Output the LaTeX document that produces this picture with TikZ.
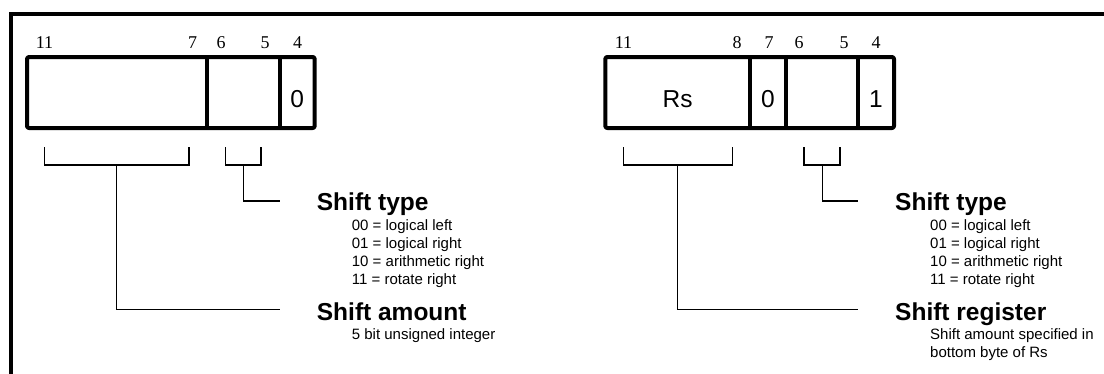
\documentclass[tikz,border=0pt]{standalone}
\usepackage{fontspec}
\setmainfont{Liberation Serif}
\setsansfont{Liberation Sans}
\begin{document}
\begin{tikzpicture}[x=1pt,y=-1pt,
  frame/.style={line width=4pt, line join=miter},
  regbox/.style={line width=4pt, rounded corners=2pt, line join=round},
  divider/.style={line width=4pt},
  bitnum/.style={font=\fontsize{18}{20}\selectfont, anchor=base, inner sep=0pt},
  field/.style={font=\sffamily\fontsize{24.5}{28}\selectfont, anchor=base, inner sep=0pt},
  heading/.style={font=\sffamily\bfseries\fontsize{24.5}{28}\selectfont, anchor=base west, inner sep=0pt},
  desc/.style={font=\sffamily\fontsize{15}{18}\selectfont, anchor=base west, inner sep=0pt},
  bracket/.style={line width=1.2pt},
]
\useasboundingbox (0,0) rectangle (1104,373);
% outer frame
\draw[frame] (11.3,376) -- (11.3,14.2) -- (1107,14.2);

% ---------- left register ----------
\draw[regbox] (27,57) rectangle (314.7,128);
\draw[divider] (206.7,57) -- (206.7,128);
\draw[divider] (280,57) -- (280,128);
\node[bitnum] (l11) at (44.5,48) {11};
\node[bitnum] (l7) at (192.5,48) {7};
\node[bitnum] (l6) at (221,48) {6};
\node[bitnum] (l5) at (265,48) {5};
\node[bitnum] (l4) at (297.5,48) {4};
\node[field] (lzero) at (297.3,107) {0};

% brackets left
\coordinate (LAa) at (44.3,147);
\coordinate (LAb) at (44.3,165);
\coordinate (LAc) at (189,165);
\coordinate (LAd) at (189,147);
\coordinate (LAs) at (116.7,165);
\coordinate (LAe) at (280,309.3);
\draw[bracket] (LAa) -- (LAb) -- (LAc) -- (LAd);
\draw[bracket] (LAs) |- (LAe);
\coordinate (LBa) at (225.7,147);
\coordinate (LBb) at (225.7,165);
\coordinate (LBc) at (261,165);
\coordinate (LBd) at (261,147);
\coordinate (LBs) at (243.3,165);
\coordinate (LBe) at (280,201);
\draw[bracket] (LBa) -- (LBb) -- (LBc) -- (LBd);
\draw[bracket] (LBs) |- (LBe);

\node[heading] (lst) at (316.7,210.5) {Shift type};
\node[desc] (lst1) at (351.7,230) {00 = logical left};
\node[desc] (lst2) at (351.7,248) {01 = logical right};
\node[desc] (lst3) at (351.7,266) {10 = arithmetic right};
\node[desc] (lst4) at (351.7,284) {11 = rotate right};
\node[heading] (lsa) at (316.7,320) {Shift amount};
\node[desc] (lsa1) at (351.7,339) {5 bit unsigned integer};

% ---------- right register ----------
\draw[regbox] (605.3,57) rectangle (894,128);
\draw[divider] (750,57) -- (750,128);
\draw[divider] (786,57) -- (786,128);
\draw[divider] (858.3,57) -- (858.3,128);
\node[bitnum] (r11) at (623.5,48) {11};
\node[bitnum] (r8) at (737,48) {8};
\node[bitnum] (r7) at (769,48) {7};
\node[bitnum] (r6) at (799,48) {6};
\node[bitnum] (r5) at (844,48) {5};
\node[bitnum] (r4) at (876,48) {4};
\node[field] (rrs) at (677.6,107) {Rs};
\node[field] (rzero) at (768,107) {0};
\node[field] (rone) at (876,107) {1};

% brackets right
\coordinate (RAa) at (623.3,147);
\coordinate (RAb) at (623.3,165);
\coordinate (RAc) at (732.3,165);
\coordinate (RAd) at (732.3,147);
\coordinate (RAs) at (677.3,165);
\coordinate (RAe) at (858.3,309.3);
\draw[bracket] (RAa) -- (RAb) -- (RAc) -- (RAd);
\draw[bracket] (RAs) |- (RAe);
\coordinate (RBa) at (804,147);
\coordinate (RBb) at (804,165);
\coordinate (RBc) at (840,165);
\coordinate (RBd) at (840,147);
\coordinate (RBs) at (822.3,165);
\coordinate (RBe) at (858.3,201);
\draw[bracket] (RBa) -- (RBb) -- (RBc) -- (RBd);
\draw[bracket] (RBs) |- (RBe);

\node[heading] (rst) at (895,210.5) {Shift type};
\node[desc] (rst1) at (930,230) {00 = logical left};
\node[desc] (rst2) at (930,248) {01 = logical right};
\node[desc] (rst3) at (930,266) {10 = arithmetic right};
\node[desc] (rst4) at (930,284) {11 = rotate right};
\node[heading] (rsr) at (895,320) {Shift register};
\node[desc] (rsr1) at (930,339) {Shift amount specified in};
\node[desc] (rsr2) at (930,357) {bottom byte of Rs};
\end{tikzpicture}
\end{document}
